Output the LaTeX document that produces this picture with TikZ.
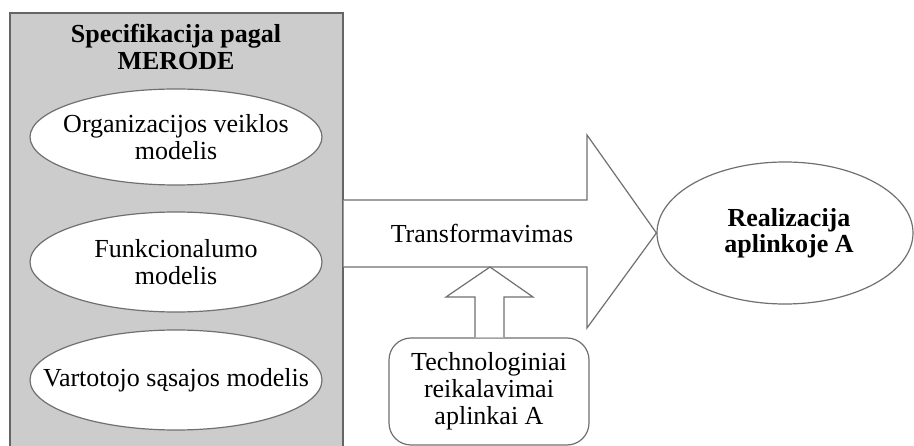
\documentclass[tikz,border=0pt]{standalone}
\usepackage{fontspec}
\setmainfont[Ligatures=NoCommon]{Liberation Serif}
\usetikzlibrary{shapes.geometric}
\definecolor{boxgray}{HTML}{CCCCCC}
\definecolor{edge}{HTML}{707070}
\begin{document}
\begin{tikzpicture}[x=1pt,y=-1pt,
  every node/.style={font=\fontsize{26}{27}\selectfont, align=center, inner sep=0pt},
  every label/.style={font=\fontsize{26}{27}\selectfont, align=center, inner sep=0pt},
  line/.style={draw=edge, line width=1.2pt},
  oval/.style={line, ellipse, fill=white},
  blockarrow/.style={line, fill=white, line join=miter}]
\useasboundingbox (0,0) rectangle (914,446);
\clip (0,0) rectangle (914,446);
\fill[white] (0,0) rectangle (914,446);
% gray specification box
\node[line, draw=edge!90!black, fill=boxgray, minimum width=333pt, minimum height=447pt] (box) at (176.5,236.5) {};
\node[font=\fontsize{26}{27}\selectfont\bfseries] (title) at (176,47) {Specifikacija pagal\\MERODE};
\node[oval, minimum width=292pt, minimum height=96pt, label={[name=e1t]center:{Organizacijos veiklos\\modelis}}] (e1) at (176,137) {};
\node[oval, minimum width=292pt, minimum height=100pt, label={[name=e2t]center:{Funkcionalumo\\modelis}}] (e2) at (176,262) {};
\node[oval, minimum width=292pt, minimum height=100pt, label={[name=e3t]center:{Vartotojo sąsajos modelis}}] (e3) at (176,380) {};
% realization
\node[oval, minimum width=256pt, minimum height=142pt] (real) at (785,233) {};
\node[font=\fontsize{26}{26}\selectfont\bfseries] (reallbl) at (789,233) {Realizacija\\aplinkoje A};
% technology requirements
\node[line, rounded corners=22pt, minimum width=200pt, minimum height=107pt] (tech) at (489,391.5) {Technologiniai\\reikalavimai\\aplinkai A};
% big block arrow
\coordinate (yt) at (0,200);
\coordinate (yb) at (0,267);
\coordinate (yht) at (0,135);
\coordinate (yhb) at (0,328);
\coordinate (xs) at (587,0);
\draw[blockarrow] (box.east |- yt) -- (xs |- yt) -- (xs |- yht) -- (real.west) -- (xs |- yhb) -- (xs |- yb) -- (box.east |- yb);
\node (trans) at (482,233) {Transformavimas};
% small block arrow
\coordinate (sl) at (475,0);
\coordinate (sr) at (504,0);
\coordinate (hl) at (446,297);
\coordinate (hr) at (533,297);
\coordinate (stip) at (490,267);
\draw[blockarrow] (sl |- tech.north) -- (sl |- hl) -- (hl) -- (stip) -- (hr) -- (sr |- hr) -- (sr |- tech.north);
\end{tikzpicture}
\end{document}
